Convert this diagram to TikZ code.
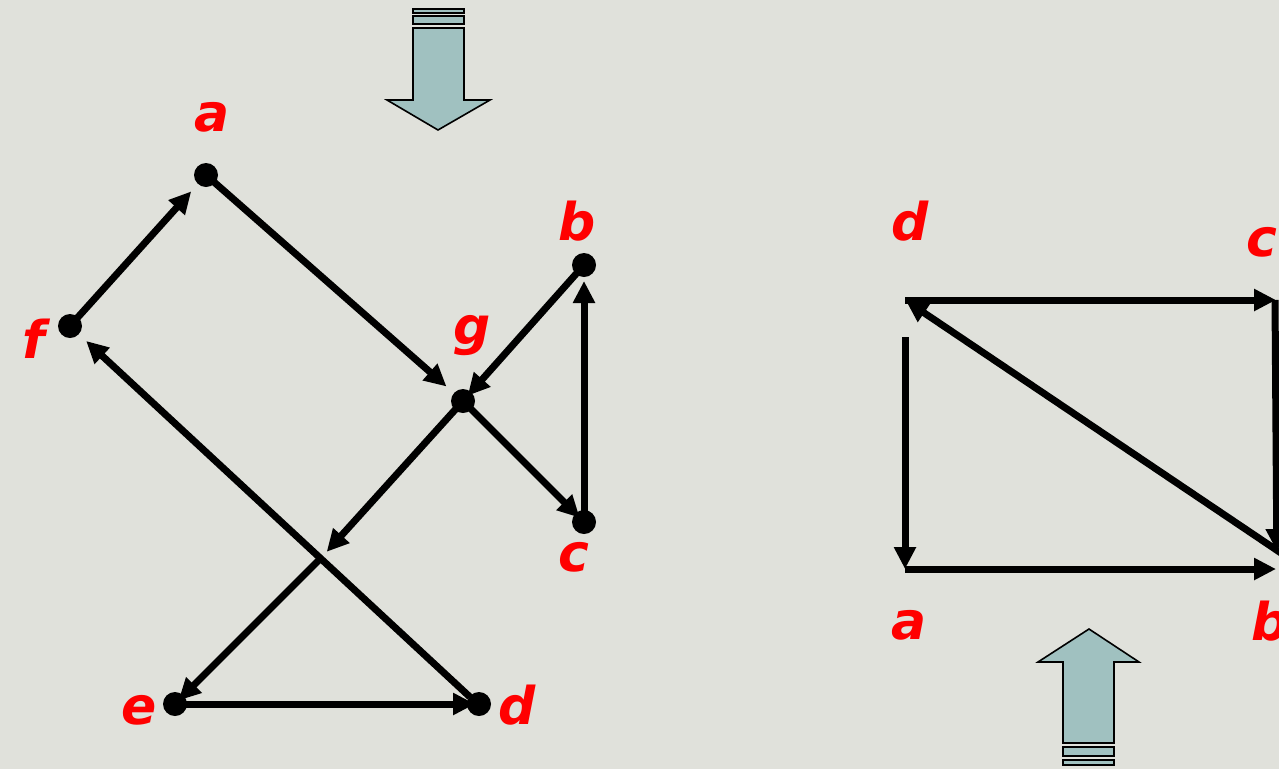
\documentclass[tikz,border=0pt]{standalone}
\usepackage{fontspec}
\setmainfont{DejaVu Sans}
\usetikzlibrary{arrows.meta}
\definecolor{bg}{HTML}{E0E1DB}
\definecolor{blk}{HTML}{A0C1C0}
\definecolor{lbl}{HTML}{FF0000}
\begin{document}
\begin{tikzpicture}[x=1pt,y=-1pt,
  edge/.style={line width=7pt,-{Triangle[length=22pt,width=21pt]}},
  dot/.style={circle,fill=black,inner sep=0pt,minimum size=24pt},
  lab/.style={text=lbl,font=\fontsize{52}{52}\selectfont\bfseries\itshape,inner sep=0pt,anchor=base},
  blockarrow/.style={fill=blk,draw=black,line width=1.6pt,line join=miter}]
\fill[bg] (0,0) rectangle (1279,769);
\useasboundingbox (0,0) rectangle (1279,769);
% left graph coordinates
\coordinate (a) at (206,175);
\coordinate (b) at (584,265);
\coordinate (c) at (584,522);
\coordinate (d) at (479,704);
\coordinate (e) at (175,704);
\coordinate (f) at (70,326);
\coordinate (g) at (463,401);
\coordinate (x) at (322,557);
\coordinate (d2) at (470,697);
% edges
\draw[edge,shorten >=22pt] (f) -- (a);
\draw[edge,shorten >=22pt] (a) -- (g);
\draw[edge,shorten >=7pt] (b) -- (g);
\draw[edge,shorten >=6pt] (g) -- (c);
\draw[edge,shorten >=16pt] (c) -- (b);
\draw[edge,shorten >=7pt] (g) -- (x);
\draw[edge,shorten >=5pt] (x) -- (e);
\draw[edge,shorten >=4pt] (e) -- (d);
\draw[edge,shorten >=22pt] (d2) -- (f);
% dots
\foreach \n in {a,b,c,d,e,f,g} \node[dot] (n\n) at (\n) {};
% labels
\node[lab] (la) at (212,131) {a};
\node[lab] (lb) at (577,240) {b};
\node[lab] (lg) at (472,344) {g};
\node[lab] (lf) at (34,358) {f};
\node[lab] (lc) at (574,571) {c};
\node[lab] (le) at (139,724) {e};
\node[lab] (ld) at (517,724) {d};
% right graph
\coordinate (rd) at (905,300);
\coordinate (rc) at (1276,300);
\coordinate (ra) at (905,569);
\coordinate (rb) at (1276,569);
\coordinate (rb2) at (1281,553);
\coordinate (rc2) at (1275,300);
\coordinate (rbr) at (1277,569);
\draw[edge,shorten >=0pt] (rd) -- (rc);
\draw[edge,shorten >=0pt] (ra) -- (rb);
\draw[edge,shorten >=18pt] (rc2) -- (rbr);
\draw[edge,shorten >=1pt] (rb2) -- (rd);
\draw[edge,shorten <=37pt] (rd) -- (ra);
\node[lab] (lrd) at (910,240) {d};
\node[lab] (lrc) at (1262,256) {c};
\node[lab] (lra) at (909,639) {a};
\node[lab] (lrb) at (1270,640) {b};
% block arrows
\draw[blockarrow] (413,9) rectangle (464,13);
\draw[blockarrow] (413,16) rectangle (464,24);
\draw[blockarrow] (413,28) -- (464,28) -- (464,100) -- (490,100) -- (438,130) -- (387,100) -- (413,100) -- cycle;
\draw[blockarrow] (1063,743) -- (1114,743) -- (1114,662) -- (1139,662) -- (1089,629) -- (1038,662) -- (1063,662) -- cycle;
\draw[blockarrow] (1063,747) rectangle (1114,756);
\draw[blockarrow] (1063,760) rectangle (1114,765);
\end{tikzpicture}
\end{document}
